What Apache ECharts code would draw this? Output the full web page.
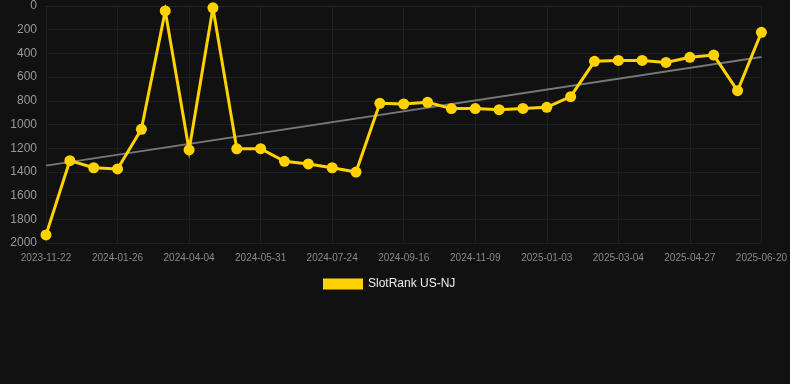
<!DOCTYPE html>
<html><head><meta charset="utf-8">
<script src="https://cdn.jsdelivr.net/npm/echarts@6/dist/echarts.min.js"></script>
<style>html,body{margin:0;padding:0;background:#111111;}#c{width:790px;height:384px;}</style>
</head><body><div id="c"></div>
<script>
var dates = ['2023-11-22','2023-12-14','2024-01-04','2024-01-26','2024-02-18','2024-03-12','2024-04-04','2024-04-23','2024-05-12','2024-05-31','2024-06-18','2024-07-06','2024-07-24','2024-08-11','2024-08-29','2024-09-16','2024-10-04','2024-10-22','2024-11-09','2024-11-27','2024-12-16','2025-01-03','2025-01-23','2025-02-12','2025-03-04','2025-03-22','2025-04-09','2025-04-27','2025-05-15','2025-06-02','2025-06-20'];
var ranks = [1932,1305,1365,1375,1040,42,1215,15,1205,1204,1311,1333,1365,1401,821,827,813,866,866,875,864,855,765,467,459,459,476,433,414,715,222];
var trendStart = 1347;
var trendEnd = 430;
var yTicks = [0,200,400,600,800,1000,1200,1400,1600,1800,2000];

var trend = dates.map(function(d,i){ return i===0 ? trendStart : (i===dates.length-1 ? trendEnd : null); });

var chart = echarts.init(document.getElementById('c'), null, {renderer:'canvas'});
chart.setOption({
  backgroundColor:'#111111',
  animation:false,
  grid:{left:46,right:28,top:6,bottom:141,containLabel:false},
  legend:{
    data:[{name:'SlotRank US-NJ',icon:'rect'}],
    left:318, top:273, itemWidth:40, itemHeight:11, itemGap:6,
    textStyle:{color:'#eeeeee',fontSize:12,fontFamily:'Arial, Liberation Sans, sans-serif'}
  },
  xAxis:{
    type:'category', data:dates, boundaryGap:false,
    axisLine:{show:true,lineStyle:{color:'#262626'}},
    axisTick:{show:false},
    axisLabel:{interval:2,color:'#8a8a8a',fontSize:10,margin:10,fontFamily:'Arial, Liberation Sans, sans-serif'},
    splitLine:{show:true,interval:2,lineStyle:{color:'#1f1f1f',width:1}}
  },
  yAxis:{
    type:'value', inverse:true, min:yTicks[0], max:yTicks[yTicks.length-1], interval:200,
    axisLine:{show:false}, axisTick:{show:false},
    axisLabel:{color:'#999999',fontSize:12,margin:9,fontFamily:'Arial, Liberation Sans, sans-serif',formatter:function(v){return String(v);}},
    splitLine:{show:true,lineStyle:{color:'#1f1f1f',width:1}}
  },
  series:[
    {
      name:'Trend', type:'line', data:trend, connectNulls:true, symbol:'none',
      lineStyle:{color:'#777777',width:2}, silent:true, z:1
    },
    {
      name:'SlotRank US-NJ', type:'line', data:ranks,
      symbol:'circle', symbolSize:11,
      itemStyle:{color:'#FFD200'},
      lineStyle:{color:'#FFD200',width:3,join:'miter',miterLimit:10},
      z:3
    }
  ]
});
</script></body></html>
